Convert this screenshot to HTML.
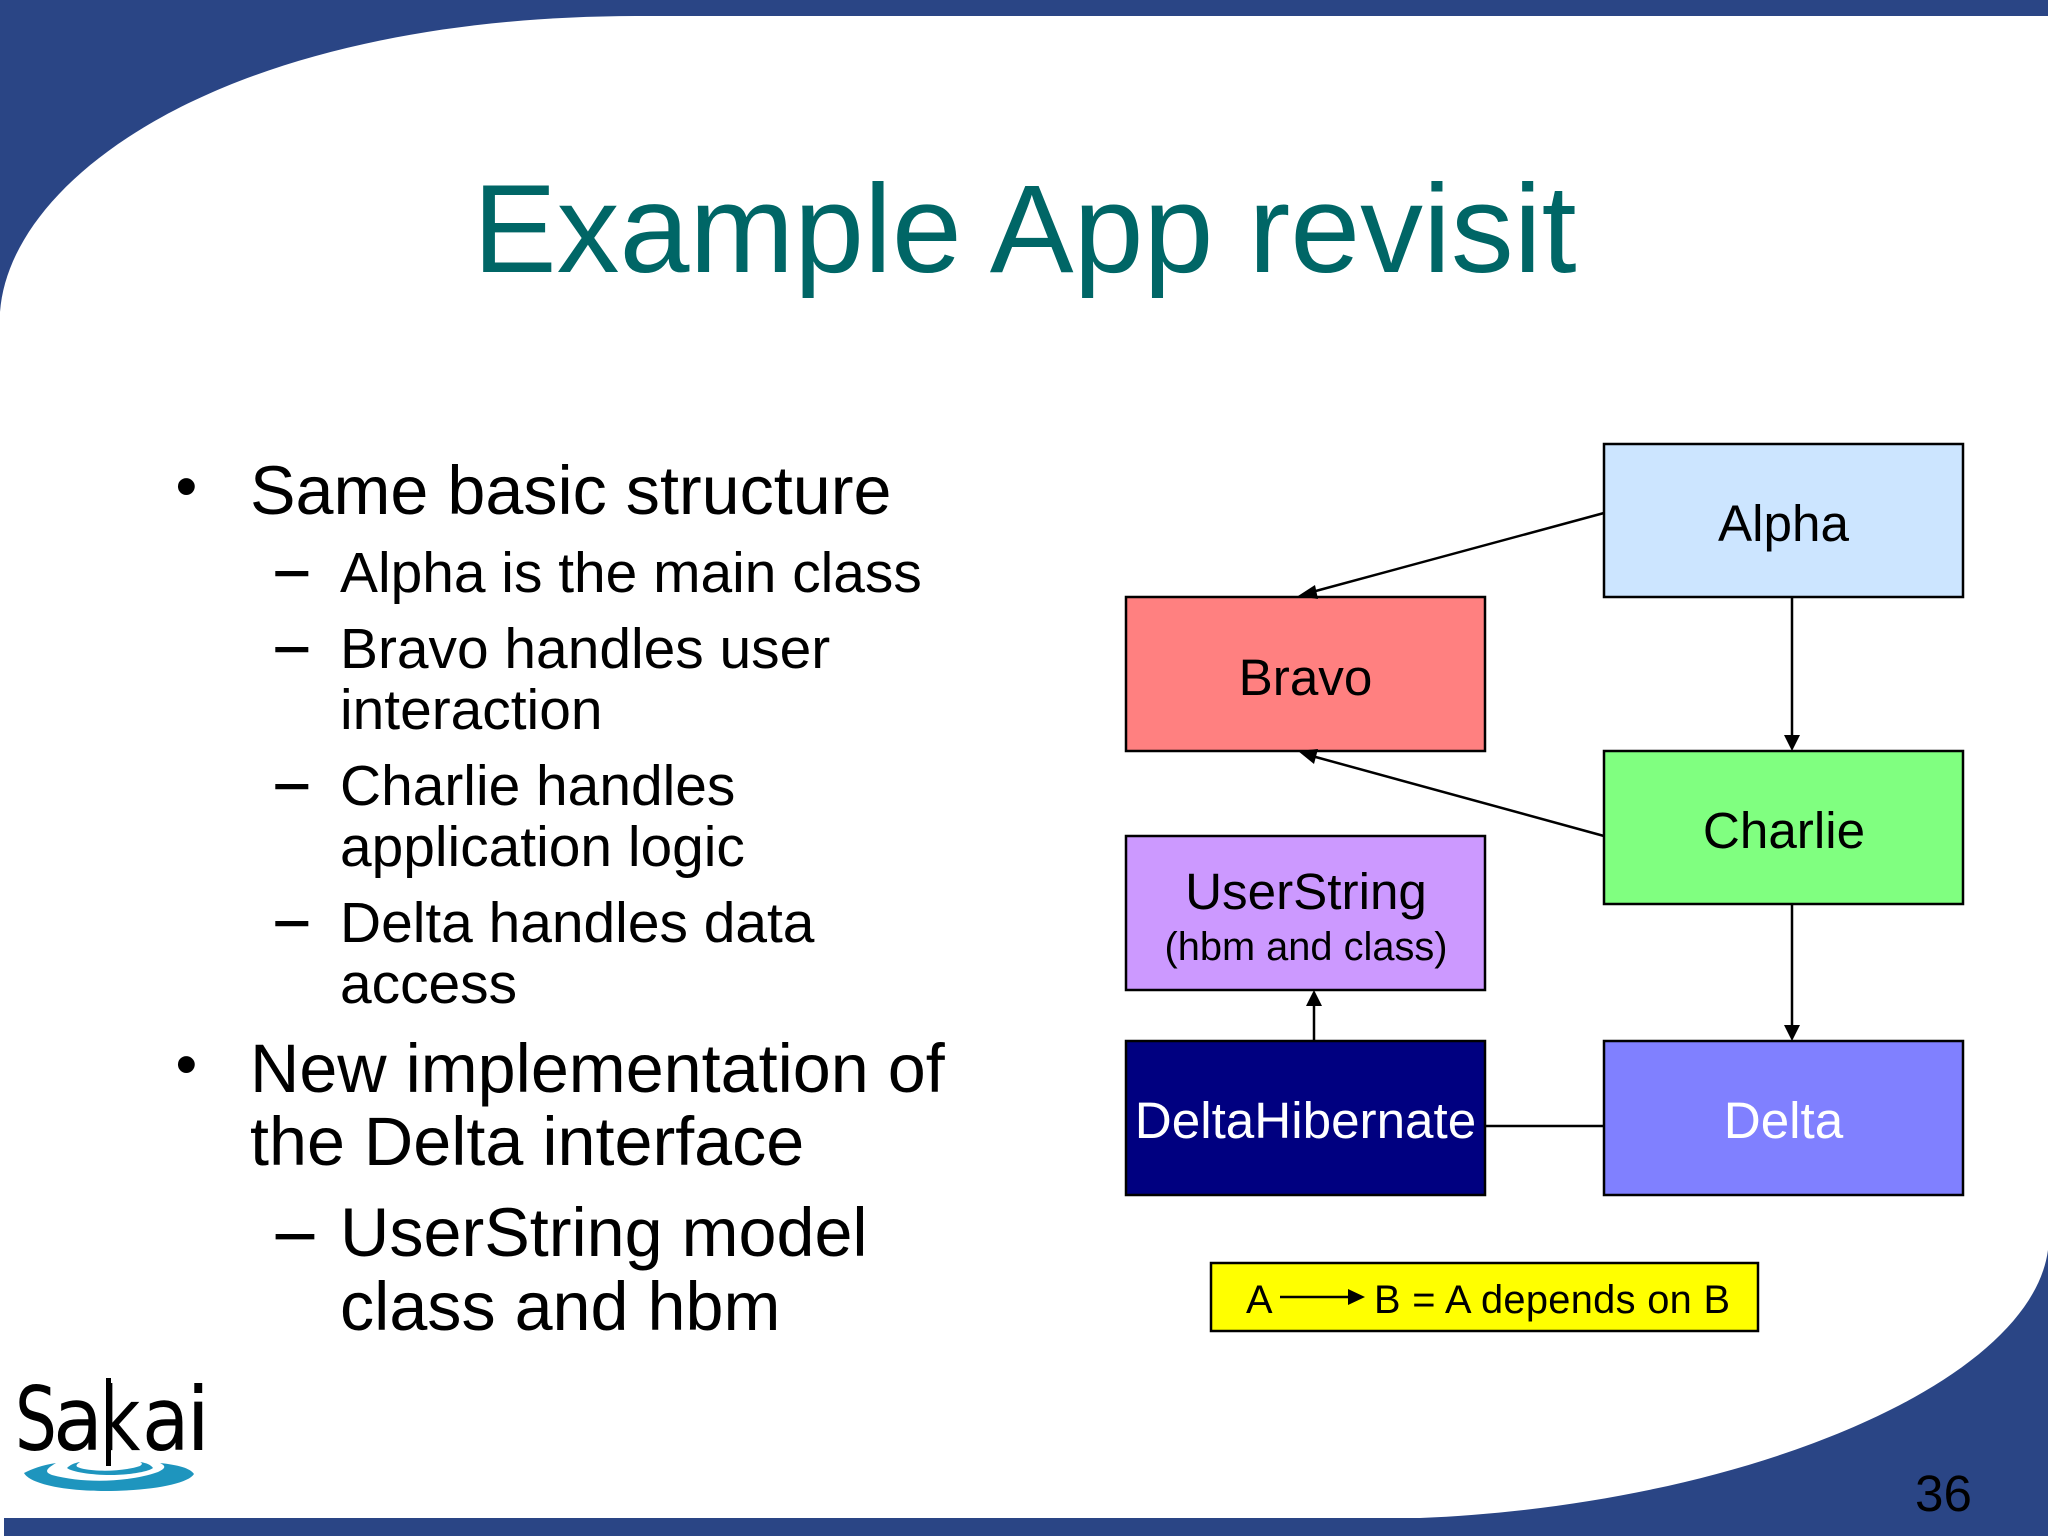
<!DOCTYPE html>
<html><head><meta charset="utf-8"><style>
html,body{margin:0;padding:0;background:#fff}
svg{display:block}
text{font-family:"Liberation Sans",Arial,sans-serif;fill:#000}
.b{font-size:68.3px}.s{font-size:56.9px}.n{font-size:51.2px}.m{font-size:39.8px}
.c{text-anchor:middle}
.p{font-size:62px}
.d{stroke:#000;stroke-width:1.4px}
.l{font-family:"DejaVu Sans",sans-serif;font-size:88px}
</style></head><body>
<svg width="2048" height="1536" viewBox="0 0 2048 1536" xmlns="http://www.w3.org/2000/svg">
<rect width="2048" height="1536" fill="#2a4585"/>
<path d="M0 312 C10 175 230 16 640 16 L2048 16 L2048 1250 C2030 1385 1740 1505 1420 1518 L0 1518 Z" fill="#fff"/>
<rect x="0" y="1518" width="4" height="18" fill="#fff"/>
<text x="1024.7" y="272" class="c" style="font-size:125.7px;fill:#006666">Example App revisit</text>

<text x="175.5" y="507" class="p">•</text><text x="250" y="514" class="b">Same basic structure</text>
<text x="276" y="588" class="s d">–</text><text x="340" y="592" class="s">Alpha is the main class</text>
<text x="276" y="664" class="s d">–</text><text x="340" y="668" class="s">Bravo handles user</text>
<text x="340" y="729" class="s">interaction</text>
<text x="276" y="801" class="s d">–</text><text x="340" y="805" class="s">Charlie handles</text>
<text x="340" y="866" class="s">application logic</text>
<text x="276" y="938" class="s d">–</text><text x="340" y="942" class="s">Delta handles data</text>
<text x="340" y="1003" class="s">access</text>
<text x="175.5" y="1085" class="p">•</text><text x="250" y="1092" class="b">New implementation of</text>
<text x="250" y="1165" class="b">the Delta interface</text>
<text x="276" y="1254" class="b d" style="stroke-width:.8px">–</text><text x="340" y="1256" class="b">UserString model</text>
<text x="340" y="1330" class="b">class and hbm</text>

<g stroke="#000" stroke-width="2.5">
<rect x="1604" y="444" width="359" height="153" fill="#cce5ff"/>
<rect x="1126" y="597" width="359" height="154" fill="#ff8080"/>
<rect x="1604" y="751" width="359" height="153" fill="#80ff80"/>
<rect x="1126" y="836" width="359" height="154" fill="#cc99ff"/>
<rect x="1126" y="1041" width="359" height="154" fill="#000080"/>
<rect x="1604" y="1041" width="359" height="154" fill="#8080ff"/>
<rect x="1211" y="1263" width="547" height="68" fill="#ffff00"/>
<line x1="1604" y1="513" x2="1312" y2="592" fill="none"/>
<line x1="1604" y1="836" x2="1312" y2="756" fill="none"/>
<line x1="1792" y1="597" x2="1792" y2="738"/>
<line x1="1792" y1="904" x2="1792" y2="1028"/>
<line x1="1314" y1="1041" x2="1314" y2="1002"/>
<line x1="1485" y1="1126" x2="1604" y2="1126"/>
<line x1="1280" y1="1297" x2="1352" y2="1297"/>
</g>
<g fill="#000">
<polygon points="1298,596 1315,585 1318,599"/>
<polygon points="1298,751 1318,749 1314,764"/>
<polygon points="1784,735 1800,735 1792,751"/>
<polygon points="1784,1025 1800,1025 1792,1041"/>
<polygon points="1306,1006 1322,1006 1314,990"/>
<polygon points="1348,1289 1348,1305 1365,1297"/>
</g>
<text x="1783.5" y="541" class="n c">Alpha</text>
<text x="1305.5" y="695" class="n c">Bravo</text>
<text x="1784" y="848" class="n c">Charlie</text>
<text x="1306" y="909" class="n c">UserString</text>
<text x="1306" y="960" class="m c">(hbm and class)</text>
<text x="1305.5" y="1138" class="n c" style="fill:#fff">DeltaHibernate</text>
<text x="1783.5" y="1138" class="n c" style="fill:#fff">Delta</text>
<text x="1246" y="1313" class="m">A</text>
<text x="1374" y="1313" class="m" textLength="356">B = A depends on B</text>
<text x="1915" y="1511" class="n">36</text>

<text class="l" transform="translate(15,1450) scale(.75,1)">S</text>
<text class="l" transform="translate(53,1450) scale(.93,1)">a</text>
<text class="l" transform="translate(99.6,1450) scale(.8,1)">k</text>
<text class="l" transform="translate(142,1450) scale(.88,1)">a</text>
<text class="l" transform="translate(186,1450)">i</text>
<line x1="108.5" y1="1378" x2="108.5" y2="1466" stroke="#000" stroke-width="5"/>
<path d="M24 1473 C32 1469 42 1465 56 1463 C46 1469 44 1472 52 1475 C85 1484 130 1482 158 1472 C166 1468 166 1466 160 1463 C178 1465 190 1468 194 1474 C188 1484 150 1491 105 1491 C65 1491 30 1484 24 1473 Z" fill="#1e95be"/>
<path d="M67 1468 C70 1465 74 1463 80 1462 C74 1466 76 1467 84 1469 C100 1472 125 1471 140 1466 C143 1464 142 1463 140 1462 C147 1463 151 1465 153 1468 C148 1472 128 1475 110 1475 C92 1475 72 1472 67 1468 Z" fill="#1e95be"/>
</svg>
</body></html>
